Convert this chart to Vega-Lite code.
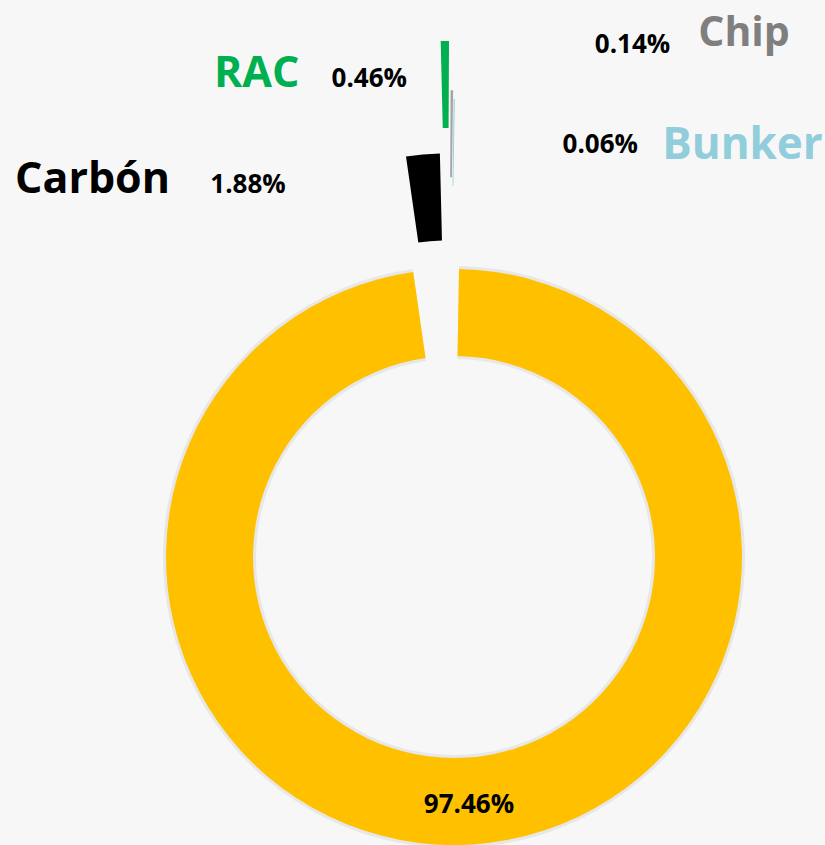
{
  "$schema": "https://vega.github.io/schema/vega-lite/v6.json",
  "width": 740,
  "height": 576,
  "autosize": {"type": "none"},
  "padding": {"left": 84, "top": 269, "right": 1, "bottom": 0},
  "background": "#f7f7f7",
  "config": {"view": {"stroke": null}, "text": {"font": "Open Sans", "fontWeight": "bold"}},
  "data": {
    "values": [
      {"fuente": "Bagazo", "pct": 0.9746, "orden": 1},
      {"fuente": "Carbón", "pct": 0.0188, "orden": 2},
      {"fuente": "RAC", "pct": 0.0046, "orden": 3},
      {"fuente": "Chip", "pct": 0.0014, "orden": 4},
      {"fuente": "Bunker", "pct": 0.0006, "orden": 5}
    ]
  },
  "transform": [
    {"stack": "pct", "groupby": [], "sort": [{"field": "orden", "order": "ascending"}], "as": ["t0", "t1"]}
  ],
  "layer": [
    {
      "transform": [{"filter": "datum.fuente === 'Bagazo'"}],
      "mark": {"type": "arc", "radius": 291, "radius2": 198, "color": "#cfcfcf", "opacity": 0.4},
      "encoding": {
        "theta": {"field": "t0", "type": "quantitative", "scale": {"domain": [0, 1], "range": [0.01745, 6.30064]}},
        "theta2": {"field": "t1"}
      }
    },
    {
      "transform": [{"filter": "datum.fuente === 'Bagazo'"}],
      "mark": {"type": "arc", "radius": 288, "radius2": 201, "color": "#FFC000"},
      "encoding": {
        "theta": {"field": "t0", "type": "quantitative", "scale": {"domain": [0, 1], "range": [0.01745, 6.30064]}},
        "theta2": {"field": "t1"}
      }
    },
    {
      "transform": [{"filter": "datum.fuente === 'Carbón'"}],
      "mark": {"type": "arc", "radius": 288, "radius2": 201, "color": "#000000", "xOffset": -7.2, "yOffset": -115.5},
      "encoding": {
        "theta": {"field": "t0", "type": "quantitative", "scale": {"domain": [0, 1], "range": [0.01745, 6.30064]}},
        "theta2": {"field": "t1"}
      }
    },
    {
      "transform": [{"filter": "datum.fuente === 'RAC'"}],
      "mark": {"type": "arc", "radius": 288, "radius2": 201, "color": "#00B050", "xOffset": -6.4, "yOffset": -228},
      "encoding": {
        "theta": {"field": "t0", "type": "quantitative", "scale": {"domain": [0, 1], "range": [0.01745, 6.30064]}},
        "theta2": {"field": "t1"}
      }
    },
    {
      "transform": [{"filter": "datum.fuente === 'Chip'"}],
      "mark": {"type": "arc", "radius": 288, "radius2": 201, "color": "#A5A5A5", "xOffset": -4.8, "yOffset": -178.7},
      "encoding": {
        "theta": {"field": "t0", "type": "quantitative", "scale": {"domain": [0, 1], "range": [0.01745, 6.30064]}},
        "theta2": {"field": "t1"}
      }
    },
    {
      "transform": [{"filter": "datum.fuente === 'Bunker'"}],
      "mark": {"type": "arc", "radius": 288, "radius2": 201, "color": "#92CDDC", "xOffset": -4.2, "yOffset": -170},
      "encoding": {
        "theta": {"field": "t0", "type": "quantitative", "scale": {"domain": [0, 1], "range": [0.01745, 6.30064]}},
        "theta2": {"field": "t1"}
      }
    },
    {
      "mark": {"type": "text", "radius": 256, "dx": -1, "fontSize": 26, "color": "#000000", "align": "center", "baseline": "alphabetic"},
      "encoding": {
        "theta": {"field": "pct", "type": "quantitative", "stack": true, "scale": {"domain": [0, 1], "range": [0.01745, 6.30064]}},
        "order": {"field": "orden"},
        "text": {"condition": {"test": "datum.fuente === 'Bagazo'", "field": "pct", "type": "quantitative", "format": ".2%"}, "value": ""}
      }
    },
    {
      "mark": {"type": "text", "radius": 365, "dx": -331.2, "fontSize": 43, "color": "#000000", "align": "center", "baseline": "alphabetic"},
      "encoding": {
        "theta": {"field": "pct", "type": "quantitative", "stack": true, "scale": {"domain": [0, 1], "range": [0.01745, 6.30064]}},
        "order": {"field": "orden"},
        "text": {"condition": {"test": "datum.fuente === 'Carbón'", "field": "fuente", "type": "nominal"}, "value": ""}
      }
    },
    {
      "mark": {"type": "text", "radius": 365, "dx": -175.7, "fontSize": 26, "color": "#000000", "align": "center", "baseline": "alphabetic"},
      "encoding": {
        "theta": {"field": "pct", "type": "quantitative", "stack": true, "scale": {"domain": [0, 1], "range": [0.01745, 6.30064]}},
        "order": {"field": "orden"},
        "text": {"condition": {"test": "datum.fuente === 'Carbón'", "field": "pct", "type": "quantitative", "format": ".2%"}, "value": ""}
      }
    },
    {
      "mark": {"type": "text", "radius": 470.3, "dx": -192.8, "fontSize": 43, "color": "#00B050", "align": "center", "baseline": "alphabetic"},
      "encoding": {
        "theta": {"field": "pct", "type": "quantitative", "stack": true, "scale": {"domain": [0, 1], "range": [0.01745, 6.30064]}},
        "order": {"field": "orden"},
        "text": {"condition": {"test": "datum.fuente === 'RAC'", "field": "fuente", "type": "nominal"}, "value": ""}
      }
    },
    {
      "mark": {"type": "text", "radius": 469.7, "dx": -80.2, "fontSize": 26, "color": "#000000", "align": "center", "baseline": "alphabetic"},
      "encoding": {
        "theta": {"field": "pct", "type": "quantitative", "stack": true, "scale": {"domain": [0, 1], "range": [0.01745, 6.30064]}},
        "order": {"field": "orden"},
        "text": {"condition": {"test": "datum.fuente === 'RAC'", "field": "pct", "type": "quantitative", "format": ".2%"}, "value": ""}
      }
    },
    {
      "mark": {"type": "text", "radius": 511.5, "dx": 285.3, "fontSize": 41, "color": "#7F7F7F", "align": "center", "baseline": "alphabetic"},
      "encoding": {
        "theta": {"field": "pct", "type": "quantitative", "stack": true, "scale": {"domain": [0, 1], "range": [0.01745, 6.30064]}},
        "order": {"field": "orden"},
        "text": {"condition": {"test": "datum.fuente === 'Chip'", "field": "fuente", "type": "nominal"}, "value": ""}
      }
    },
    {
      "mark": {"type": "text", "radius": 503.7, "dx": 173.8, "fontSize": 26, "color": "#000000", "align": "center", "baseline": "alphabetic"},
      "encoding": {
        "theta": {"field": "pct", "type": "quantitative", "stack": true, "scale": {"domain": [0, 1], "range": [0.01745, 6.30064]}},
        "order": {"field": "orden"},
        "text": {"condition": {"test": "datum.fuente === 'Chip'", "field": "pct", "type": "quantitative", "format": ".2%"}, "value": ""}
      }
    },
    {
      "mark": {"type": "text", "radius": 397.7, "dx": 282.3, "fontSize": 44, "color": "#92CDDC", "align": "center", "baseline": "alphabetic"},
      "encoding": {
        "theta": {"field": "pct", "type": "quantitative", "stack": true, "scale": {"domain": [0, 1], "range": [0.01745, 6.30064]}},
        "order": {"field": "orden"},
        "text": {"condition": {"test": "datum.fuente === 'Bunker'", "field": "fuente", "type": "nominal"}, "value": ""}
      }
    },
    {
      "mark": {"type": "text", "radius": 403.7, "dx": 140, "fontSize": 26, "color": "#000000", "align": "center", "baseline": "alphabetic"},
      "encoding": {
        "theta": {"field": "pct", "type": "quantitative", "stack": true, "scale": {"domain": [0, 1], "range": [0.01745, 6.30064]}},
        "order": {"field": "orden"},
        "text": {"condition": {"test": "datum.fuente === 'Bunker'", "field": "pct", "type": "quantitative", "format": ".2%"}, "value": ""}
      }
    }
  ]
}
